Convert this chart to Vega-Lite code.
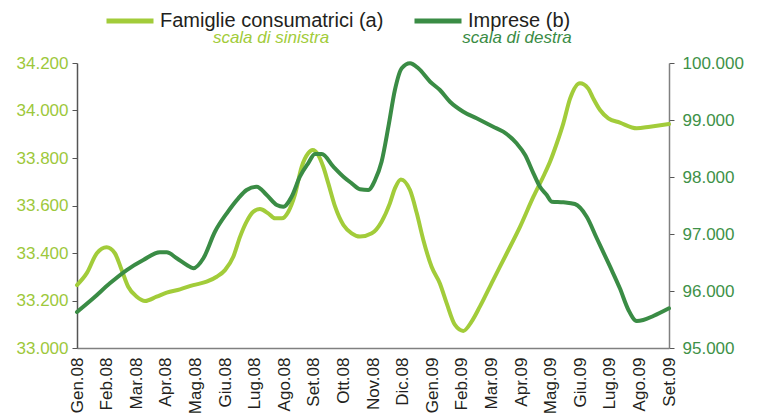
{
  "$schema": "https://vega.github.io/schema/vega-lite/v6.json",
  "width": 592,
  "height": 285,
  "autosize": {"type": "none"},
  "padding": {"left": 77, "top": 63, "right": 88, "bottom": 68},
  "background": "white",
  "config": {"view": {"stroke": null}, "font": "Liberation Sans", "axisX": {"labelOverlap": false, "labelFlush": false}},
  "datasets": {
    "famiglie": [
      {"serie": "Famiglie consumatrici (a)", "mese": 0, "valore": 33265},
      {"serie": "Famiglie consumatrici (a)", "mese": 0.33, "valore": 33315},
      {"serie": "Famiglie consumatrici (a)", "mese": 0.67, "valore": 33399},
      {"serie": "Famiglie consumatrici (a)", "mese": 1.0, "valore": 33424},
      {"serie": "Famiglie consumatrici (a)", "mese": 1.28, "valore": 33399},
      {"serie": "Famiglie consumatrici (a)", "mese": 1.51, "valore": 33328},
      {"serie": "Famiglie consumatrici (a)", "mese": 1.73, "valore": 33258},
      {"serie": "Famiglie consumatrici (a)", "mese": 2.02, "valore": 33216},
      {"serie": "Famiglie consumatrici (a)", "mese": 2.3, "valore": 33198},
      {"serie": "Famiglie consumatrici (a)", "mese": 2.69, "valore": 33216},
      {"serie": "Famiglie consumatrici (a)", "mese": 3.03, "valore": 33233},
      {"serie": "Famiglie consumatrici (a)", "mese": 3.48, "valore": 33247},
      {"serie": "Famiglie consumatrici (a)", "mese": 3.93, "valore": 33265},
      {"serie": "Famiglie consumatrici (a)", "mese": 4.38, "valore": 33279},
      {"serie": "Famiglie consumatrici (a)", "mese": 4.72, "valore": 33300},
      {"serie": "Famiglie consumatrici (a)", "mese": 5.0, "valore": 33328},
      {"serie": "Famiglie consumatrici (a)", "mese": 5.28, "valore": 33384},
      {"serie": "Famiglie consumatrici (a)", "mese": 5.51, "valore": 33469},
      {"serie": "Famiglie consumatrici (a)", "mese": 5.73, "valore": 33532},
      {"serie": "Famiglie consumatrici (a)", "mese": 5.96, "valore": 33574},
      {"serie": "Famiglie consumatrici (a)", "mese": 6.18, "valore": 33585},
      {"serie": "Famiglie consumatrici (a)", "mese": 6.46, "valore": 33567},
      {"serie": "Famiglie consumatrici (a)", "mese": 6.69, "valore": 33546},
      {"serie": "Famiglie consumatrici (a)", "mese": 6.92, "valore": 33546},
      {"serie": "Famiglie consumatrici (a)", "mese": 7.14, "valore": 33574},
      {"serie": "Famiglie consumatrici (a)", "mese": 7.36, "valore": 33644},
      {"serie": "Famiglie consumatrici (a)", "mese": 7.59, "valore": 33763},
      {"serie": "Famiglie consumatrici (a)", "mese": 7.81, "valore": 33820},
      {"serie": "Famiglie consumatrici (a)", "mese": 7.96, "valore": 33834},
      {"serie": "Famiglie consumatrici (a)", "mese": 8.15, "valore": 33813},
      {"serie": "Famiglie consumatrici (a)", "mese": 8.32, "valore": 33763},
      {"serie": "Famiglie consumatrici (a)", "mese": 8.49, "valore": 33693},
      {"serie": "Famiglie consumatrici (a)", "mese": 8.72, "valore": 33595},
      {"serie": "Famiglie consumatrici (a)", "mese": 9.0, "valore": 33518},
      {"serie": "Famiglie consumatrici (a)", "mese": 9.28, "valore": 33483},
      {"serie": "Famiglie consumatrici (a)", "mese": 9.56, "valore": 33469},
      {"serie": "Famiglie consumatrici (a)", "mese": 9.96, "valore": 33483},
      {"serie": "Famiglie consumatrici (a)", "mese": 10.29, "valore": 33532},
      {"serie": "Famiglie consumatrici (a)", "mese": 10.57, "valore": 33609},
      {"serie": "Famiglie consumatrici (a)", "mese": 10.74, "valore": 33672},
      {"serie": "Famiglie consumatrici (a)", "mese": 10.94, "valore": 33710},
      {"serie": "Famiglie consumatrici (a)", "mese": 11.25, "valore": 33665},
      {"serie": "Famiglie consumatrici (a)", "mese": 11.48, "valore": 33567},
      {"serie": "Famiglie consumatrici (a)", "mese": 11.7, "valore": 33455},
      {"serie": "Famiglie consumatrici (a)", "mese": 11.98, "valore": 33342},
      {"serie": "Famiglie consumatrici (a)", "mese": 12.26, "valore": 33272},
      {"serie": "Famiglie consumatrici (a)", "mese": 12.49, "valore": 33188},
      {"serie": "Famiglie consumatrici (a)", "mese": 12.77, "valore": 33097},
      {"serie": "Famiglie consumatrici (a)", "mese": 13.05, "valore": 33072},
      {"serie": "Famiglie consumatrici (a)", "mese": 13.33, "valore": 33111},
      {"serie": "Famiglie consumatrici (a)", "mese": 13.61, "valore": 33174},
      {"serie": "Famiglie consumatrici (a)", "mese": 14.06, "valore": 33286},
      {"serie": "Famiglie consumatrici (a)", "mese": 14.52, "valore": 33399},
      {"serie": "Famiglie consumatrici (a)", "mese": 14.97, "valore": 33511},
      {"serie": "Famiglie consumatrici (a)", "mese": 15.42, "valore": 33637},
      {"serie": "Famiglie consumatrici (a)", "mese": 15.75, "valore": 33721},
      {"serie": "Famiglie consumatrici (a)", "mese": 15.98, "valore": 33784},
      {"serie": "Famiglie consumatrici (a)", "mese": 16.21, "valore": 33862},
      {"serie": "Famiglie consumatrici (a)", "mese": 16.43, "valore": 33946},
      {"serie": "Famiglie consumatrici (a)", "mese": 16.66, "valore": 34051},
      {"serie": "Famiglie consumatrici (a)", "mese": 16.99, "valore": 34115},
      {"serie": "Famiglie consumatrici (a)", "mese": 17.27, "valore": 34093},
      {"serie": "Famiglie consumatrici (a)", "mese": 17.44, "valore": 34051},
      {"serie": "Famiglie consumatrici (a)", "mese": 17.67, "valore": 34002},
      {"serie": "Famiglie consumatrici (a)", "mese": 17.95, "valore": 33967},
      {"serie": "Famiglie consumatrici (a)", "mese": 18.34, "valore": 33949},
      {"serie": "Famiglie consumatrici (a)", "mese": 18.91, "valore": 33925},
      {"serie": "Famiglie consumatrici (a)", "mese": 19.36, "valore": 33932},
      {"serie": "Famiglie consumatrici (a)", "mese": 20.0, "valore": 33943}
    ],
    "imprese": [
      {"serie": "Imprese (b)", "mese": 0, "valore": 95632},
      {"serie": "Imprese (b)", "mese": 0.55, "valore": 95872},
      {"serie": "Imprese (b)", "mese": 1.11, "valore": 96135},
      {"serie": "Imprese (b)", "mese": 1.68, "valore": 96368},
      {"serie": "Imprese (b)", "mese": 2.24, "valore": 96544},
      {"serie": "Imprese (b)", "mese": 2.8, "valore": 96679},
      {"serie": "Imprese (b)", "mese": 3.03, "valore": 96679},
      {"serie": "Imprese (b)", "mese": 3.37, "valore": 96574},
      {"serie": "Imprese (b)", "mese": 3.71, "valore": 96456},
      {"serie": "Imprese (b)", "mese": 3.93, "valore": 96398},
      {"serie": "Imprese (b)", "mese": 4.27, "valore": 96574},
      {"serie": "Imprese (b)", "mese": 4.66, "valore": 97040},
      {"serie": "Imprese (b)", "mese": 5.06, "valore": 97363},
      {"serie": "Imprese (b)", "mese": 5.45, "valore": 97626},
      {"serie": "Imprese (b)", "mese": 5.73, "valore": 97772},
      {"serie": "Imprese (b)", "mese": 6.07, "valore": 97830},
      {"serie": "Imprese (b)", "mese": 6.41, "valore": 97684},
      {"serie": "Imprese (b)", "mese": 6.75, "valore": 97509},
      {"serie": "Imprese (b)", "mese": 6.97, "valore": 97479},
      {"serie": "Imprese (b)", "mese": 7.25, "valore": 97654},
      {"serie": "Imprese (b)", "mese": 7.53, "valore": 98005},
      {"serie": "Imprese (b)", "mese": 7.81, "valore": 98240},
      {"serie": "Imprese (b)", "mese": 8.04, "valore": 98403},
      {"serie": "Imprese (b)", "mese": 8.27, "valore": 98403},
      {"serie": "Imprese (b)", "mese": 8.66, "valore": 98181},
      {"serie": "Imprese (b)", "mese": 9.0, "valore": 98005},
      {"serie": "Imprese (b)", "mese": 9.28, "valore": 97889},
      {"serie": "Imprese (b)", "mese": 9.56, "valore": 97784},
      {"serie": "Imprese (b)", "mese": 9.84, "valore": 97772},
      {"serie": "Imprese (b)", "mese": 10.07, "valore": 97947},
      {"serie": "Imprese (b)", "mese": 10.29, "valore": 98268},
      {"serie": "Imprese (b)", "mese": 10.52, "valore": 98882},
      {"serie": "Imprese (b)", "mese": 10.74, "valore": 99526},
      {"serie": "Imprese (b)", "mese": 10.97, "valore": 99907},
      {"serie": "Imprese (b)", "mese": 11.25, "valore": 99995},
      {"serie": "Imprese (b)", "mese": 11.53, "valore": 99907},
      {"serie": "Imprese (b)", "mese": 11.93, "valore": 99672},
      {"serie": "Imprese (b)", "mese": 12.26, "valore": 99526},
      {"serie": "Imprese (b)", "mese": 12.6, "valore": 99321},
      {"serie": "Imprese (b)", "mese": 13.05, "valore": 99146},
      {"serie": "Imprese (b)", "mese": 13.5, "valore": 99030},
      {"serie": "Imprese (b)", "mese": 14.06, "valore": 98882},
      {"serie": "Imprese (b)", "mese": 14.4, "valore": 98795},
      {"serie": "Imprese (b)", "mese": 14.85, "valore": 98591},
      {"serie": "Imprese (b)", "mese": 15.14, "valore": 98386},
      {"serie": "Imprese (b)", "mese": 15.42, "valore": 98065},
      {"serie": "Imprese (b)", "mese": 15.64, "valore": 97830},
      {"serie": "Imprese (b)", "mese": 15.87, "valore": 97684},
      {"serie": "Imprese (b)", "mese": 16.04, "valore": 97567},
      {"serie": "Imprese (b)", "mese": 16.43, "valore": 97556},
      {"serie": "Imprese (b)", "mese": 16.82, "valore": 97526},
      {"serie": "Imprese (b)", "mese": 17.22, "valore": 97303},
      {"serie": "Imprese (b)", "mese": 17.56, "valore": 96925},
      {"serie": "Imprese (b)", "mese": 18.01, "valore": 96426},
      {"serie": "Imprese (b)", "mese": 18.34, "valore": 96047},
      {"serie": "Imprese (b)", "mese": 18.63, "valore": 95667},
      {"serie": "Imprese (b)", "mese": 18.91, "valore": 95474},
      {"serie": "Imprese (b)", "mese": 19.13, "valore": 95491},
      {"serie": "Imprese (b)", "mese": 19.47, "valore": 95561},
      {"serie": "Imprese (b)", "mese": 20.0, "valore": 95696}
    ],
    "note": [
      {"testo": "scala di sinistra", "serie": "Famiglie consumatrici (a)"},
      {"testo": "scala di destra", "serie": "Imprese (b)"}
    ]
  },
  "encoding": {
    "x": {
      "field": "mese", "type": "quantitative",
      "scale": {"domain": [0, 20], "nice": false, "zero": false},
      "axis": {
        "title": null, "grid": false, "ticks": false,
        "values": [0,1,2,3,4,5,6,7,8,9,10,11,12,13,14,15,16,17,18,19,20],
        "labelExpr": "['Gen.08','Feb.08','Mar.08','Apr.08','Mag.08','Giu.08','Lug.08','Ago.08','Set.08','Ott.08','Nov.08','Dic.08','Gen.09','Feb.09','Mar.09','Apr.09','Mag.09','Giu.09','Lug.09','Ago.09','Set.09'][round(datum.value)]",
        "labelAngle": -90, "labelAlign": "right", "labelBaseline": "middle", "labelFontSize": 17, "labelColor": "#231f20",
        "labelPadding": 9, "labelOverlap": false, "labelFlush": false, "labelBound": false, "labelSeparation": 0,
        "domainColor": "#808080", "domainWidth": 1.5
      }
    }
  },
  "layer": [
    {
      "data": {"name": "famiglie"},
      "mark": {"type": "line", "strokeWidth": 4, "interpolate": "monotone", "strokeCap": "round"},
      "encoding": {
        "y": {
          "field": "valore", "type": "quantitative",
          "scale": {"domain": [33000, 34200], "nice": false, "zero": false},
          "axis": {
            "title": null, "grid": false,
            "values": [33000, 33200, 33400, 33600, 33800, 34000, 34200],
            "labelExpr": "replace(format(datum.value, ',.0f'), ',', '.')",
            "labelFontSize": 17, "labelColor": "#9dc83b", "labelPadding": 4,
            "tickSize": 5, "tickColor": "#555555", "domainColor": "#555555", "domainWidth": 1.5
          }
        },
        "color": {
          "field": "serie", "type": "nominal",
          "scale": {"domain": ["Famiglie consumatrici (a)", "Imprese (b)"], "range": ["#a2cc3a", "#3a8c45"]},
          "legend": {
            "title": null, "orient": "none", "direction": "horizontal",
            "legendX": 27, "legendY": -68, "padding": 0,
            "symbolType": "stroke", "symbolSize": 2209, "symbolStrokeWidth": 5,
            "labelFontSize": 20, "labelColor": "#231f20", "labelOffset": 4,
            "columnPadding": 20, "labelLimit": 400
          }
        }
      }
    },
    {
      "data": {"name": "imprese"},
      "mark": {"type": "line", "strokeWidth": 4, "interpolate": "monotone", "strokeCap": "round"},
      "encoding": {
        "y": {
          "field": "valore", "type": "quantitative",
          "scale": {"domain": [95000, 100000], "nice": false, "zero": false},
          "axis": {
            "title": null, "grid": false, "orient": "right",
            "values": [95000, 96000, 97000, 98000, 99000, 100000],
            "labelExpr": "replace(format(datum.value, ',.0f'), ',', '.')",
            "labelFontSize": 17, "labelColor": "#3e9147", "labelPadding": 8,
            "tickSize": 5, "tickColor": "#555555", "domainColor": "#808080", "domainWidth": 1.5
          }
        },
        "color": {"field": "serie", "type": "nominal"}
      }
    },
    {
      "data": {"name": "note"},
      "transform": [{"filter": "datum.serie == 'Famiglie consumatrici (a)'"}],
      "mark": {"type": "text", "fontStyle": "italic", "fontSize": 17, "align": "center", "baseline": "alphabetic", "color": "#a2cc3a"},
      "encoding": {
        "x": {"value": 194},
        "y": {"value": -20},
        "text": {"field": "testo"}
      }
    },
    {
      "data": {"name": "note"},
      "transform": [{"filter": "datum.serie == 'Imprese (b)'"}],
      "mark": {"type": "text", "fontStyle": "italic", "fontSize": 17, "align": "center", "baseline": "alphabetic", "color": "#3a8c45"},
      "encoding": {
        "x": {"value": 440},
        "y": {"value": -20},
        "text": {"field": "testo"}
      }
    }
  ],
  "resolve": {"scale": {"y": "independent"}}
}
